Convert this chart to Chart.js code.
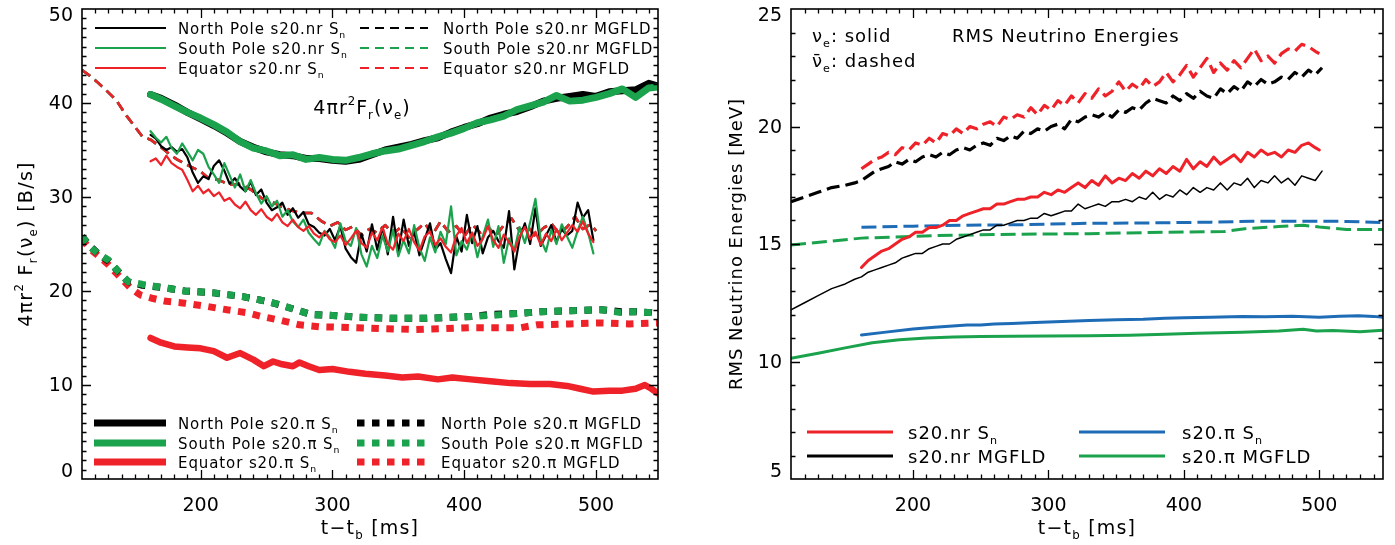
<!DOCTYPE html>
<html><head><meta charset="utf-8">
<script src="https://cdn.jsdelivr.net/npm/chart.js@4"></script>
<style>
html,body{margin:0;padding:0;background:#fff;width:1395px;height:545px;overflow:hidden}
#c1{position:absolute;left:0;top:0}
#c2{position:absolute;left:695px;top:0}
</style></head><body>
<canvas id="c1" width="695" height="545" style="width:695px;height:545px"></canvas>
<canvas id="c2" width="700" height="545" style="width:700px;height:545px"></canvas>
<script>
// ---------------- DATA: left panel (4 pi r^2 F_r(nu_e), B/s) ----------------
const xTicks = [200, 300, 400, 500];
const yTicksL = [0, 10, 20, 30, 40, 50];
const yTicksR = [5, 10, 15, 20, 25];

const nrT = [162,166,170,174,178,182,186,190,194,198,202,206,210,214,218,222,226,230,234,238,
  242,246,250,254,258,262,266,270,274,278,282,286,290,294,298,302,306,310,314,318,
  322,326,330,334,338,342,346,350,354,358,362,366,370,374,378,382,386,390,394,398,
  402,406,410,414,418,422,426,430,434,438,442,446,450,454,458,462,466,470,474,478,
  482,486,490,494,498];
const nrNorthSn = [36.6,36.2,35.4,35.0,35.3,34.8,35.1,34.2,32.6,31.5,
  32.2,31.9,33.3,33.9,32.8,31.4,32.0,31.1,30.6,31.6,
  30.2,30.8,29.4,28.6,28.9,29.4,28.1,28.8,27.8,28.4,
  27.1,26.8,26.2,25.9,26.6,25.4,26.9,24.5,23.6,23.0,
  26.1,24.2,27.1,24.4,26.8,23.9,27.9,24.1,27.6,24.8,
  26.3,23.8,25.5,27.2,24.4,25.1,23.4,21.9,25.8,24.2,
  28.1,25.1,26.9,24.0,25.7,26.4,25.3,24.6,28.5,22.3,
  25.6,27.2,25.0,28.8,24.8,25.9,27.0,25.2,26.6,25.9,
  26.4,29.4,27.8,28.6,25.4];
const nrSouthSn = [37.0,36.3,35.8,36.4,35.2,34.6,35.7,34.8,33.9,35.0,
  34.6,33.2,32.4,31.5,33.6,32.3,31.0,32.4,30.6,31.8,
  30.4,29.3,30.1,29.0,29.6,27.9,28.6,27.4,26.8,27.6,
  26.2,25.5,24.9,26.4,25.7,24.6,27.2,25.3,24.8,26.7,
  23.9,22.6,24.8,23.5,25.9,24.2,26.5,23.7,25.4,24.0,
  27.0,24.6,23.2,25.7,24.1,26.3,25.0,29.0,23.8,25.3,
  24.4,26.2,23.6,25.8,27.6,24.7,26.9,23.0,25.6,24.3,
  26.8,25.1,27.3,29.8,25.5,24.2,26.5,25.0,27.1,25.8,
  24.6,26.4,27.9,26.2,24.0];
const nrEqSn = [33.8,34.1,33.4,34.4,33.6,33.2,32.9,31.8,30.6,31.2,
  30.4,30.8,30.1,30.5,29.6,29.9,29.2,28.8,29.5,28.6,
  28.1,28.7,27.9,27.5,28.2,27.3,26.9,27.6,26.8,26.4,
  26.9,26.1,25.7,26.3,25.5,25.2,25.9,24.9,25.6,26.4,
  25.1,24.6,26.2,25.4,26.8,25.0,24.4,26.1,25.3,26.6,
  25.2,24.3,25.8,26.3,24.9,25.6,24.7,24.1,25.9,26.7,
  25.1,26.2,24.8,25.5,26.9,25.4,24.6,26.0,25.2,24.2,
  25.8,26.8,25.5,26.3,24.9,26.1,25.3,26.6,25.4,26.2,
  27.0,26.3,27.4,26.1,25.2];

const nrMgT = [110,115,121,128,136,144,150,156,162,170,176,182,190,200,206,214,222,230,238,246,
  254,261,268,276,284,292,298,304,310,316,322,328,334,340,346,352,358,364,370,376,
  382,388,394,400,406,412,418,424,430,436,442,448,454,460,466,472,478,484,490,496,500];
const nrMgfld = [43.5,43.0,42.3,41.4,40.3,38.6,37.5,36.4,36.1,35.3,34.6,34.0,33.4,32.7,32.0,31.8,31.3,31.4,30.8,29.9,
  29.5,29.0,28.6,28.3,28.3,27.4,26.9,27.3,26.5,26.9,25.9,26.6,26.2,27.0,26.1,26.8,25.7,26.5,27.2,26.0,
  27.4,26.3,26.9,25.8,27.1,26.2,26.8,25.9,27.0,27.7,26.4,26.9,25.8,26.7,27.2,26.1,26.8,27.9,26.6,27.1,26.4];

const piT = [162,170,180,190,200,210,220,230,240,250,260,270,280,290,300,310,320,330,340,350,
  360,370,380,390,400,410,420,430,440,450,460,470,480,490,500,510,520,530,540,547];
const piSouthSn = [40.9,40.4,39.7,39.0,38.4,37.7,36.9,35.9,35.2,34.9,34.4,34.5,34.0,34.2,34.0,33.9,34.2,34.6,34.9,35.1,
  35.5,35.9,36.4,36.8,37.3,37.9,38.2,38.6,39.3,39.7,40.1,40.8,40.2,40.3,40.6,41.0,41.5,40.6,41.6,41.7];
const piNorthSn = [40.9,40.5,39.8,39.0,38.3,37.6,36.8,35.9,35.3,34.8,34.5,34.4,34.1,34.1,33.9,33.8,34.0,34.5,35.0,35.3,
  35.6,36.0,36.3,36.9,37.4,37.8,38.4,38.8,39.1,39.6,40.2,40.5,40.7,40.9,40.7,41.2,41.3,41.4,42.1,41.8];
const piEqT = [162,170,180,190,200,210,220,230,240,248,255,262,270,275,282,290,300,313,325,340,
  353,365,380,391,405,420,435,450,465,478,488,498,510,520,530,537,542,547];
const piEqSn = [15.0,14.5,14.1,14.0,13.9,13.6,12.9,13.4,12.7,12.0,12.5,12.2,12.0,12.4,12.0,11.6,11.7,11.4,11.2,11.0,
  10.8,10.9,10.6,10.8,10.6,10.4,10.2,10.1,10.1,9.9,9.6,9.3,9.4,9.4,9.6,10.0,9.6,9.1];

const piMgPoleT = [110,116,122,130,138,145,156,170,188,210,232,250,261,272,284,300,320,347,370,390,
  406,420,440,458,480,504,519,530,542,547];
const piSouthMg = [25.8,24.7,24.0,23.3,22.0,21.0,20.7,20.4,20.0,19.8,19.4,18.9,18.5,18.0,17.5,17.4,17.2,17.1,17.1,17.2,
  17.3,17.4,17.6,17.8,17.9,18.0,17.7,17.8,17.7,17.6];
const piNorthMg = [25.8,24.8,24.0,23.2,22.0,21.0,20.6,20.4,20.0,19.8,19.4,18.9,18.5,18.0,17.5,17.4,17.2,17.1,17.1,17.2,
  17.3,17.5,17.6,17.8,17.9,18.0,17.8,17.8,17.7,17.6];
const piMgEqT = [110,116,122,130,140,147,154,164,174,188,203,220,235,246,260,275,290,318,340,362,
  385,406,430,443,455,480,504,525,547];
const piEqMg = [25.5,24.5,23.8,22.8,21.3,20.3,19.6,19.2,18.9,18.7,18.4,18.0,17.7,17.3,16.9,16.4,16.2,16.1,16.0,15.9,
  16.0,16.1,16.1,16.1,16.4,16.5,16.6,16.5,16.6];

// ---------------- DATA: right panel (RMS energies, MeV) ----------------
const rT = [162,167,172,177,182,187,192,197,202,207,212,217,222,227,232,237,242,247,252,257,
  262,267,272,277,282,287,292,297,302,307,312,317,322,327,332,337,342,347,352,357,
  362,367,372,377,382,387,392,397,402,407,412,417,422,427,432,437,442,447,452,457,
  462,467,472,477,482,487,492,497,500];
const nrSnNue = [14.0,14.3,14.5,14.7,14.8,15.0,15.2,15.3,15.5,15.5,15.7,15.7,15.8,16.0,16.0,16.2,16.3,16.4,16.5,16.5,
  16.7,16.7,16.8,16.9,16.9,17.0,17.0,17.2,17.1,17.3,17.2,17.4,17.6,17.4,17.7,17.5,17.9,17.6,17.8,17.7,
  18.0,17.8,18.1,17.9,18.2,18.0,18.3,18.1,18.6,18.2,18.5,18.3,18.7,18.4,18.6,18.8,18.5,18.9,18.7,19.0,
  18.8,18.9,18.7,19.0,18.9,19.2,19.3,19.1,19.0];
const nrSnNueBar = [18.2,18.4,18.6,18.7,18.9,18.8,19.1,19.0,19.3,19.2,19.5,19.3,19.7,19.6,19.9,19.7,20.0,19.9,20.1,20.2,
  20.0,20.4,20.3,20.5,20.4,20.8,20.5,20.9,20.7,21.1,20.9,21.3,21.0,21.4,21.2,21.6,21.3,21.5,21.9,21.5,
  21.8,21.6,22.0,21.7,21.9,22.3,21.9,22.2,22.6,22.1,22.5,22.9,22.3,22.7,22.4,22.8,22.5,22.9,23.3,22.8,
  23.0,22.7,23.1,23.3,23.2,23.5,23.4,23.2,23.1];
const mgT = [110,120,130,140,150,157,162,167,172,177,182,187,192,197,202,207,212,217,222,227,
  232,237,242,247,252,257,262,267,272,277,282,287,292,297,302,307,312,317,322,327,
  332,337,342,347,352,357,362,367,372,377,382,387,392,397,402,407,412,417,422,427,
  432,437,442,447,452,457,462,467,472,477,482,487,492,497,502];
const nrMgNue = [12.2,12.5,12.8,13.1,13.3,13.5,13.6,13.8,13.9,14.0,14.1,14.2,14.4,14.5,14.6,14.6,14.8,14.9,15.0,15.0,
  15.2,15.3,15.4,15.5,15.6,15.6,15.8,15.8,15.9,16.0,16.0,16.1,16.1,16.3,16.2,16.3,16.4,16.4,16.7,16.5,
  16.6,16.7,16.6,16.8,16.8,16.9,16.8,17.0,16.9,17.2,16.9,17.1,17.0,17.3,17.1,17.4,17.2,17.4,17.3,17.6,
  17.3,17.6,17.5,17.8,17.4,17.7,17.6,17.9,17.6,17.8,17.5,17.9,17.8,17.7,18.1];
const nrMgNueBar = [16.8,17.0,17.2,17.4,17.5,17.6,17.7,17.9,18.1,18.2,18.3,18.5,18.4,18.6,18.5,18.7,18.8,18.7,18.9,18.8,
  19.0,19.1,19.0,19.2,19.3,19.2,19.5,19.4,19.6,19.5,19.8,19.7,19.9,19.8,20.0,20.1,19.9,20.3,20.2,20.4,
  20.5,20.4,20.6,20.4,20.7,20.6,20.8,20.7,21.0,21.2,21.1,21.0,21.3,21.1,21.4,21.2,21.5,21.3,21.2,21.6,
  21.4,21.7,21.5,21.9,21.7,22.0,21.8,21.9,22.1,22.0,22.3,22.1,22.4,22.2,22.5];
const piSnT = [162,180,200,216,240,250,260,273,290,310,330,350,370,386,400,420,443,460,480,500,515,529,540,547];
const piSnNue = [11.13,11.25,11.38,11.46,11.55,11.55,11.6,11.62,11.66,11.7,11.74,11.78,11.8,11.84,11.86,11.88,11.92,11.9,11.93,11.88,11.93,11.95,11.92,11.88];
const piMgNueT = [110,130,150,170,190,210,230,250,273,300,330,360,386,410,443,470,488,498,510,530,547];
const piMgNue = [10.14,10.35,10.58,10.8,10.93,11.0,11.04,11.06,11.07,11.08,11.1,11.12,11.16,11.2,11.24,11.3,11.37,11.3,11.32,11.27,11.33];
const piSnBarT = [162,200,240,280,330,380,420,450,480,500,520,547];
const piSnNueBar = [15.71,15.76,15.8,15.82,15.88,15.9,15.93,15.97,15.97,15.97,15.96,15.91];
const piMgBarT = [110,162,216,280,330,386,430,445,470,488,500,520,547];
const piMgNueBar = [14.96,15.25,15.36,15.42,15.44,15.5,15.53,15.65,15.74,15.8,15.72,15.62,15.62];

// ---------------- styling ----------------
const BLACK = '#000000', GREEN = '#1ba24c', RED = '#ee2228', BLUE = '#1e6cb6';
const FONT = '"DejaVu Sans", sans-serif';

function pts(t, v) { return t.map((x, i) => ({ x: x, y: v[i] })); }
function ds(label, t, v, color, width, dash, cap) {
  return { label, data: pts(t, v), borderColor: color, backgroundColor: color, borderWidth: width,
    borderDash: dash || [], borderCapStyle: cap || 'round', borderJoinStyle: 'round',
    pointRadius: 0, tension: 0, fill: false, clip: 0 };
}

function rich(ctx, parts, x, y, size, align, ls) {
  ctx.save();
  ctx.fillStyle = '#000';
  ctx.textBaseline = 'alphabetic';
  ctx.textAlign = 'left';
  try { ctx.letterSpacing = (ls || 0) + 'px'; } catch (e) {}
  let w = 0;
  const items = parts.map(p => {
    const t = p[0], k = p[1] || '';
    const s = k ? size * 0.62 : size;
    ctx.font = s + 'px ' + FONT;
    const tw = ctx.measureText(t).width;
    w += tw;
    return { t, k, s, tw };
  });
  let cx = align === 'center' ? x - w / 2 : (align === 'right' ? x - w : x);
  items.forEach(it => {
    ctx.font = it.s + 'px ' + FONT;
    const dy = it.k === 'sub' ? size * 0.28 : (it.k === 'sup' ? -size * 0.45 : 0);
    ctx.fillText(it.t, cx, y + dy);
    cx += it.tw;
  });
  ctx.restore();
}

function sample(ctx, x1, x2, y, color, width, dash, cap) {
  ctx.save();
  ctx.strokeStyle = color; ctx.lineWidth = width; ctx.setLineDash(dash || []);
  ctx.lineCap = cap || 'butt';
  ctx.beginPath(); ctx.moveTo(x1, y); ctx.lineTo(x2, y); ctx.stroke();
  ctx.restore();
}

// frame with inward major/minor ticks; y tick labels placed IDL-style (end labels kept inside the box)
function framePlugin(xm, xM, ym, yM, yLabels) {
  return { id: 'frame', afterDatasetsDraw(chart) {
    const { ctx, chartArea: a, scales: { x, y } } = chart;
    ctx.save();
    ctx.strokeStyle = '#000'; ctx.lineWidth = 1.3; ctx.setLineDash([]);
    ctx.beginPath();
    for (let k = Math.ceil(x.min / xm); k * xm <= x.max; k++) {
      const v = k * xm;
      if (v <= x.min || v >= x.max) continue;
      const L = (v % xM === 0) ? 9 : 4.5;
      const p = Math.round(x.getPixelForValue(v)) + 0.5;
      ctx.moveTo(p, a.bottom); ctx.lineTo(p, a.bottom - L);
      ctx.moveTo(p, a.top); ctx.lineTo(p, a.top + L);
    }
    for (let k = Math.ceil(y.min / ym); k * ym <= y.max; k++) {
      const v = k * ym;
      if (v <= y.min || v >= y.max) continue;
      const L = (v % yM === 0) ? 9 : 4.5;
      const p = Math.round(y.getPixelForValue(v)) + 0.5;
      ctx.moveTo(a.left, p); ctx.lineTo(a.left + L, p);
      ctx.moveTo(a.right, p); ctx.lineTo(a.right - L, p);
    }
    ctx.stroke();
    ctx.lineWidth = 1.6;
    ctx.strokeRect(a.left, a.top, a.right - a.left, a.bottom - a.top);
    // y tick labels
    ctx.fillStyle = '#000';
    ctx.font = '19px ' + FONT;
    ctx.textAlign = 'right';
    ctx.textBaseline = 'middle';
    yLabels.forEach(v => {
      let p = y.getPixelForValue(v) + 1.5;
      p = Math.max(a.top + 7, Math.min(a.bottom - 7, p));
      ctx.fillText(String(v), a.left - 9, p);
    });
    ctx.restore();
  } };
}

function baseOptions(yMin, yMax, yTicks, yWidth, padRight) {
  return {
    responsive: false, animation: false, devicePixelRatio: 1, events: [],
    layout: { padding: { top: 9, right: padRight, left: 0, bottom: 0 } },
    plugins: { legend: { display: false }, tooltip: { enabled: false }, title: { display: false } },
    scales: {
      x: { type: 'linear', min: 110, max: 547,
        grid: { display: false, drawTicks: false }, border: { display: false },
        afterBuildTicks: s => { s.ticks = xTicks.map(v => ({ value: v })); },
        afterFit: s => { s.height = 66; s.paddingLeft = 0; s.paddingRight = 0; },
        ticks: { color: '#000', font: { family: 'DejaVu Sans', size: 19 }, padding: 16, maxRotation: 0, autoSkip: false } },
      y: { type: 'linear', min: yMin, max: yMax,
        grid: { display: false, drawTicks: false }, border: { display: false },
        afterBuildTicks: s => { s.ticks = yTicks.map(v => ({ value: v })); },
        afterFit: s => { s.width = yWidth; s.paddingTop = 0; s.paddingBottom = 0; },
        ticks: { display: false } }
    }
  };
}

// ---------------- left chart ----------------
const leftText = { id: 'leftText', afterDraw(chart) {
  const ctx = chart.ctx;
  const S = 15, LS = 0.9;
  const rowsTop = [28, 48, 68];
  const col1 = [['North Pole s20.nr S', BLACK], ['South Pole s20.nr S', GREEN], ['Equator s20.nr S', RED]];
  const col2 = [['North Pole s20.nr MGFLD', BLACK], ['South Pole s20.nr MGFLD', GREEN], ['Equator s20.nr MGFLD', RED]];
  rowsTop.forEach((yy, i) => {
    sample(ctx, 95, 166, yy, col1[i][1], 2.2);
    rich(ctx, [[col1[i][0]], ['n', 'sub']], 178, yy + 5.5, S, 'left', LS);
    sample(ctx, 360, 428, yy, col2[i][1], 2.2, [9, 6]);
    rich(ctx, [[col2[i][0]]], 443, yy + 5.5, S, 'left', LS);
  });
  const rowsBot = [423, 443, 462];
  const col3 = [['North Pole s20.π S', BLACK], ['South Pole s20.π S', GREEN], ['Equator s20.π S', RED]];
  const col4 = [['North Pole s20.π MGFLD', BLACK], ['South Pole s20.π MGFLD', GREEN], ['Equator s20.π MGFLD', RED]];
  rowsBot.forEach((yy, i) => {
    sample(ctx, 94, 166, yy, col3[i][1], 7);
    rich(ctx, [[col3[i][0]], ['n', 'sub']], 178, yy + 5.5, S, 'left', LS);
    sample(ctx, 357, 428, yy, col4[i][1], 7, [7.5, 7.5]);
    rich(ctx, [[col4[i][0]]], 441, yy + 5.5, S, 'left', LS);
  });
  rich(ctx, [['4πr'], ['2', 'sup'], ['F'], ['r', 'sub'], ['(ν'], ['e', 'sub'], [')']], 362, 114, 19, 'center', 1);
  rich(ctx, [['t−t'], ['b', 'sub'], [' [ms]']], 370, 534, 19, 'center', 1.2);
  ctx.save(); ctx.translate(25, 244); ctx.rotate(-Math.PI / 2);
  rich(ctx, [['4πr'], ['2', 'sup'], [' F'], ['r', 'sub'], ['(ν'], ['e', 'sub'], [') [B/s]']], 0, 7, 19, 'center', 1.3);
  ctx.restore();
} };

new Chart(document.getElementById('c1'), {
  type: 'line',
  data: { datasets: [
    ds('Equator s20.nr Sn', nrT, nrEqSn, RED, 2.2),
    ds('South Pole s20.nr Sn', nrT, nrSouthSn, GREEN, 2.2),
    ds('North Pole s20.nr Sn', nrT, nrNorthSn, BLACK, 2.2),
    ds('Equator s20.nr MGFLD', nrMgT, nrMgfld, RED, 2.6, [10, 6], 'butt'),
    ds('South Pole s20.nr MGFLD', nrMgT, nrMgfld, GREEN, 2.6, [10, 6], 'butt'),
    ds('North Pole s20.nr MGFLD', nrMgT, nrMgfld, BLACK, 2.6, [10, 6], 'butt'),
    ds('South Pole s20.pi Sn', piT, piSouthSn, GREEN, 7),
    ds('North Pole s20.pi Sn', piT, piNorthSn, BLACK, 7),
    ds('Equator s20.pi Sn', piEqT, piEqSn, RED, 6.5),
    ds('South Pole s20.pi MGFLD', piMgPoleT, piSouthMg, GREEN, 7, [7.5, 7.5], 'butt'),
    ds('North Pole s20.pi MGFLD', piMgPoleT, piNorthMg, BLACK, 7, [7.5, 7.5], 'butt'),
    ds('Equator s20.pi MGFLD', piMgEqT, piEqMg, RED, 7, [7.5, 7.5], 'butt')
  ] },
  options: baseOptions(0, 50, yTicksL, 82, 37),
  plugins: [framePlugin(10, 100, 1, 10, yTicksL), leftText]
});

// ---------------- right chart ----------------
const OX = 695;
const rightText = { id: 'rightText', afterDraw(chart) {
  const ctx = chart.ctx;
  const S = 18, LS = 1;
  rich(ctx, [['ν'], ['e', 'sub'], [': solid']], 812 - OX, 42, S, 'left', LS);
  rich(ctx, [['ν\u0304'], ['e', 'sub'], [': dashed']], 812 - OX, 67, S, 'left', LS);
  rich(ctx, [['RMS Neutrino Energies']], 952 - OX, 42, S, 'left', LS);
  sample(ctx, 807 - OX, 893 - OX, 432, RED, 3);
  rich(ctx, [['s20.nr S'], ['n', 'sub']], 908 - OX, 438.5, S, 'left', LS);
  sample(ctx, 807 - OX, 893 - OX, 456, BLACK, 3);
  rich(ctx, [['s20.nr MGFLD']], 908 - OX, 462.5, S, 'left', LS);
  sample(ctx, 1079 - OX, 1165 - OX, 432, BLUE, 3);
  rich(ctx, [['s20.π S'], ['n', 'sub']], 1182 - OX, 438.5, S, 'left', LS);
  sample(ctx, 1079 - OX, 1165 - OX, 456, GREEN, 3);
  rich(ctx, [['s20.π MGFLD']], 1182 - OX, 462.5, S, 'left', LS);
  rich(ctx, [['t−t'], ['b', 'sub'], [' [ms]']], 1087 - OX, 534, 19, 'center', 1.2);
  ctx.save(); ctx.translate(735 - OX, 244); ctx.rotate(-Math.PI / 2);
  rich(ctx, [['RMS Neutrino Energies [MeV]']], 0, 7, 18, 'center', 1);
  ctx.restore();
} };

new Chart(document.getElementById('c2'), {
  type: 'line',
  data: { datasets: [
    ds('s20.nr Sn anti-nue', rT, nrSnNueBar, RED, 3.2, [13, 6], 'butt'),
    ds('s20.nr MGFLD anti-nue', mgT, nrMgNueBar, BLACK, 3.2, [13, 6], 'butt'),
    ds('s20.nr Sn nue', rT, nrSnNue, RED, 3),
    ds('s20.nr MGFLD nue', mgT, nrMgNue, BLACK, 1.5),
    ds('s20.pi Sn anti-nue', piSnBarT, piSnNueBar, BLUE, 3, [15, 6], 'butt'),
    ds('s20.pi MGFLD anti-nue', piMgBarT, piMgNueBar, GREEN, 3, [15, 6], 'butt'),
    ds('s20.pi Sn nue', piSnT, piSnNue, BLUE, 3),
    ds('s20.pi MGFLD nue', piMgNueT, piMgNue, GREEN, 3)
  ] },
  options: baseOptions(5, 25, yTicksR, 96, 12),
  plugins: [framePlugin(10, 100, 1, 5, yTicksR), rightText]
});
</script>
</body></html>
